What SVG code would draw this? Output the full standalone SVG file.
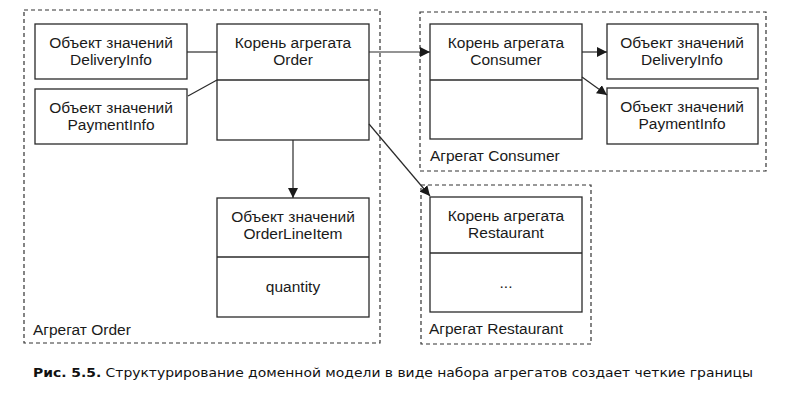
<svg xmlns="http://www.w3.org/2000/svg" width="797" height="403" viewBox="0 0 797 403">
<defs>
<marker id="arr" viewBox="0 0 10 10" refX="10" refY="5" markerWidth="10" markerHeight="10" markerUnits="userSpaceOnUse" orient="auto">
<path d="M0,0 L10,5 L0,10 z" fill="#1a1a1a"/>
</marker>
<style>
.agg{fill:none;stroke:#333;stroke-width:1.2;stroke-dasharray:4,3}
.box{fill:#fff;stroke:#2a2a2a;stroke-width:1.3}
.div{stroke:#2a2a2a;stroke-width:1.3}
.t{font-family:"Liberation Sans",Arial,sans-serif;font-size:15.5px;fill:#1a1a1a;text-anchor:middle}
.lbl{font-family:"Liberation Sans",Arial,sans-serif;font-size:15.5px;fill:#1a1a1a}
.ln{stroke:#2a2a2a;stroke-width:1.2;fill:none}
.cap{font-family:"DejaVu Sans",sans-serif;font-size:13px;fill:#111}
</style>
</defs>
<rect width="797" height="403" fill="#fff"/>

<g id="agg-order">
<rect class="agg" x="24" y="10" width="356" height="333"/>
<text class="lbl" x="33" y="335">Агрегат Order</text>
</g>
<g id="agg-consumer">
<rect class="agg" x="420" y="12" width="346" height="159"/>
<text class="lbl" x="430" y="161">Агрегат Consumer</text>
</g>
<g id="agg-restaurant">
<rect class="agg" x="421" y="185" width="170" height="159"/>
<text class="lbl" x="429" y="334">Агрегат Restaurant</text>
</g>

<g id="order-deliveryinfo">
<rect class="box" x="35" y="24" width="152" height="55"/>
<text class="t" x="111" y="48">Объект значений</text>
<text class="t" x="111" y="65">DeliveryInfo</text>
</g>
<g id="order-paymentinfo">
<rect class="box" x="35" y="89" width="152" height="55"/>
<text class="t" x="111" y="113">Объект значений</text>
<text class="t" x="111" y="130">PaymentInfo</text>
</g>
<g id="order-root">
<rect class="box" x="217" y="24" width="152" height="116"/>
<line class="div" x1="217" y1="80" x2="369" y2="80"/>
<text class="t" x="293" y="48">Корень агрегата</text>
<text class="t" x="293" y="65">Order</text>
</g>
<g id="orderlineitem">
<rect class="box" x="217" y="198" width="152" height="119"/>
<line class="div" x1="217" y1="257" x2="369" y2="257"/>
<text class="t" x="293" y="222">Объект значений</text>
<text class="t" x="293" y="239">OrderLineItem</text>
<text class="t" x="293" y="292">quantity</text>
</g>
<g id="consumer-root">
<rect class="box" x="430" y="24" width="152" height="115"/>
<line class="div" x1="430" y1="80" x2="582" y2="80"/>
<text class="t" x="506" y="48">Корень агрегата</text>
<text class="t" x="506" y="65">Consumer</text>
</g>
<g id="consumer-deliveryinfo">
<rect class="box" x="607" y="24" width="151" height="55"/>
<text class="t" x="682" y="48">Объект значений</text>
<text class="t" x="682" y="65">DeliveryInfo</text>
</g>
<g id="consumer-paymentinfo">
<rect class="box" x="607" y="88" width="151" height="56"/>
<text class="t" x="682" y="112">Объект значений</text>
<text class="t" x="682" y="129">PaymentInfo</text>
</g>
<g id="restaurant-root">
<rect class="box" x="430" y="197" width="152" height="115"/>
<line class="div" x1="430" y1="253" x2="582" y2="253"/>
<text class="t" x="506" y="221">Корень агрегата</text>
<text class="t" x="506" y="238">Restaurant</text>
<text class="t" x="506" y="288">...</text>
</g>

<g id="connectors">
<line class="ln" x1="187" y1="52" x2="217" y2="52"/>
<line class="ln" x1="188" y1="96" x2="217" y2="80"/>
<line class="ln" x1="293" y1="140" x2="293" y2="198" marker-end="url(#arr)"/>
<line class="ln" x1="369" y1="52" x2="430" y2="52" marker-end="url(#arr)"/>
<line class="ln" x1="369" y1="124" x2="430" y2="196" marker-end="url(#arr)"/>
<line class="ln" x1="582" y1="52" x2="607" y2="52" marker-end="url(#arr)"/>
<line class="ln" x1="582" y1="77" x2="607" y2="95" marker-end="url(#arr)"/>
</g>

<text class="cap" x="33" y="377" textLength="720" lengthAdjust="spacingAndGlyphs"><tspan font-weight="bold">Рис. 5.5.</tspan> Структурирование доменной модели в виде набора агрегатов создает четкие границы</text>
</svg>
